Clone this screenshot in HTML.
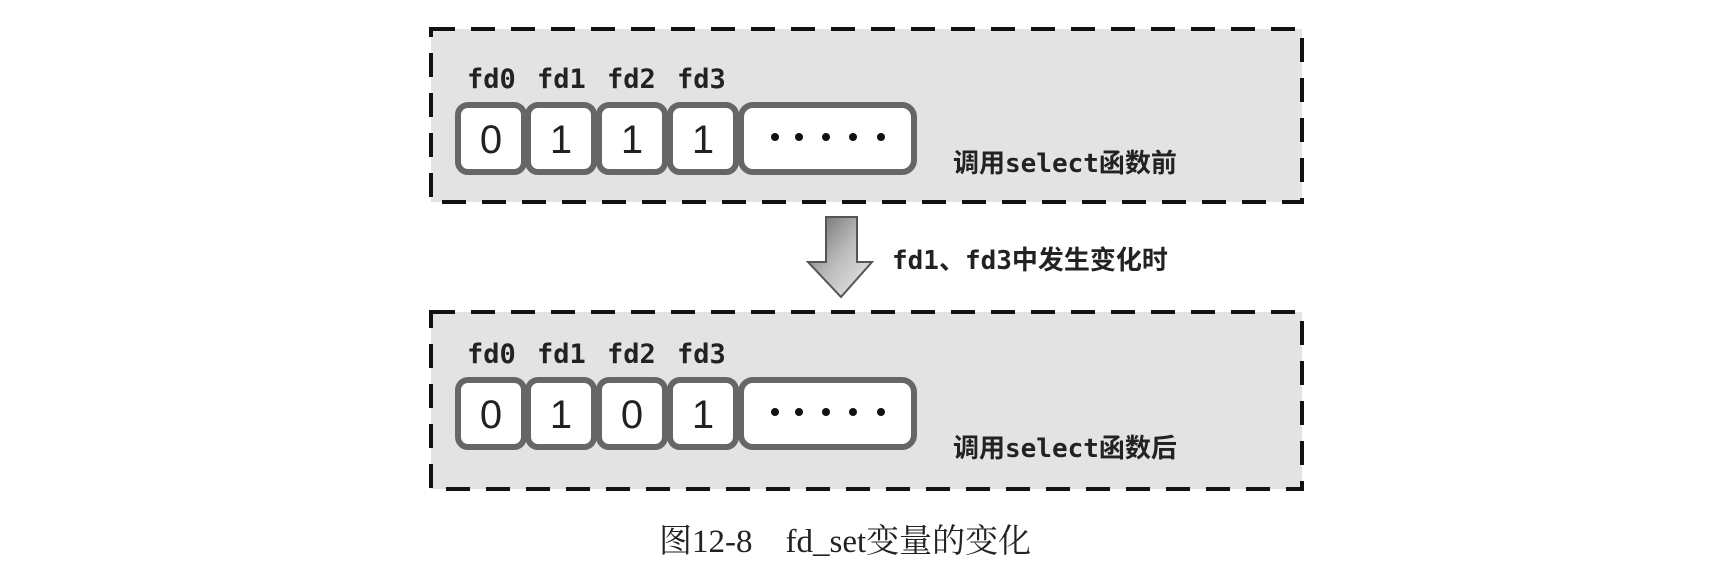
<!DOCTYPE html>
<html><head><meta charset="utf-8"><style>
html,body{margin:0;padding:0;background:#fff;}
svg{display:block}
.m{font-family:"DejaVu Sans Mono","Liberation Mono","Noto Sans CJK SC",monospace;fill:#222;font-weight:bold}
.d{font-family:"Liberation Sans",sans-serif;fill:#222}
.c{font-family:"Liberation Serif","Noto Serif CJK SC",serif;fill:#222}
</style></head><body>
<svg width="1735" height="585" viewBox="0 0 1735 585" xmlns="http://www.w3.org/2000/svg">
<defs>
<linearGradient id="g" x1="0" y1="0" x2="1" y2="1">
<stop offset="0" stop-color="#666"/><stop offset="0.5" stop-color="#bbb"/><stop offset="1" stop-color="#eee"/>
</linearGradient>
<g id="cells">
<rect x="458" y="105" width="66" height="67" rx="10" fill="#fff" stroke="#666" stroke-width="6"/>
<rect x="528" y="105" width="66" height="67" rx="10" fill="#fff" stroke="#666" stroke-width="6"/>
<rect x="599" y="105" width="66" height="67" rx="10" fill="#fff" stroke="#666" stroke-width="6"/>
<rect x="670" y="105" width="66" height="67" rx="10" fill="#fff" stroke="#666" stroke-width="6"/>
<rect x="741" y="105" width="173" height="67" rx="12" fill="#fff" stroke="#666" stroke-width="6"/>
<g fill="#111"><circle cx="775" cy="137" r="4"/><circle cx="799" cy="137" r="4"/><circle cx="826" cy="137" r="4"/><circle cx="853" cy="137" r="4"/><circle cx="881" cy="137" r="4"/></g>
<text class="m" font-size="27" x="467" y="88">fd0</text>
<text class="m" font-size="27" x="537" y="88">fd1</text>
<text class="m" font-size="27" x="607" y="88">fd2</text>
<text class="m" font-size="27" x="677" y="88">fd3</text>
</g>
</defs>
<rect x="431" y="29" width="871" height="173" fill="#e3e3e3" stroke="#111" stroke-width="4" stroke-dasharray="24 16"/>
<use href="#cells"/>
<g class="d" font-size="40" text-anchor="middle">
<text x="491" y="153">0</text><text x="561" y="153">1</text><text x="632" y="153">1</text><text x="703" y="153">1</text>
</g>
<text class="m" font-size="26" x="953" y="172">调用select函数前</text>

<path d="M826 217 H857 V262 H872 L841 297 L808 262 H826 Z" fill="url(#g)" stroke="#555" stroke-width="2"/>
<text class="m" font-size="26" x="892" y="269">fd1、fd3中发生变化时</text>

<rect x="431" y="312" width="871" height="177" fill="#e3e3e3" stroke="#111" stroke-width="4" stroke-dasharray="24 16"/>
<g transform="translate(0,275)"><use href="#cells"/>
<g class="d" font-size="40" text-anchor="middle">
<text x="491" y="153">0</text><text x="561" y="153">1</text><text x="632" y="153">0</text><text x="703" y="153">1</text>
</g></g>
<text class="m" font-size="26" x="953" y="457">调用select函数后</text>

<text class="c" font-size="33" x="659" y="552">图12-8　fd_set变量的变化</text>
</svg>
</body></html>
